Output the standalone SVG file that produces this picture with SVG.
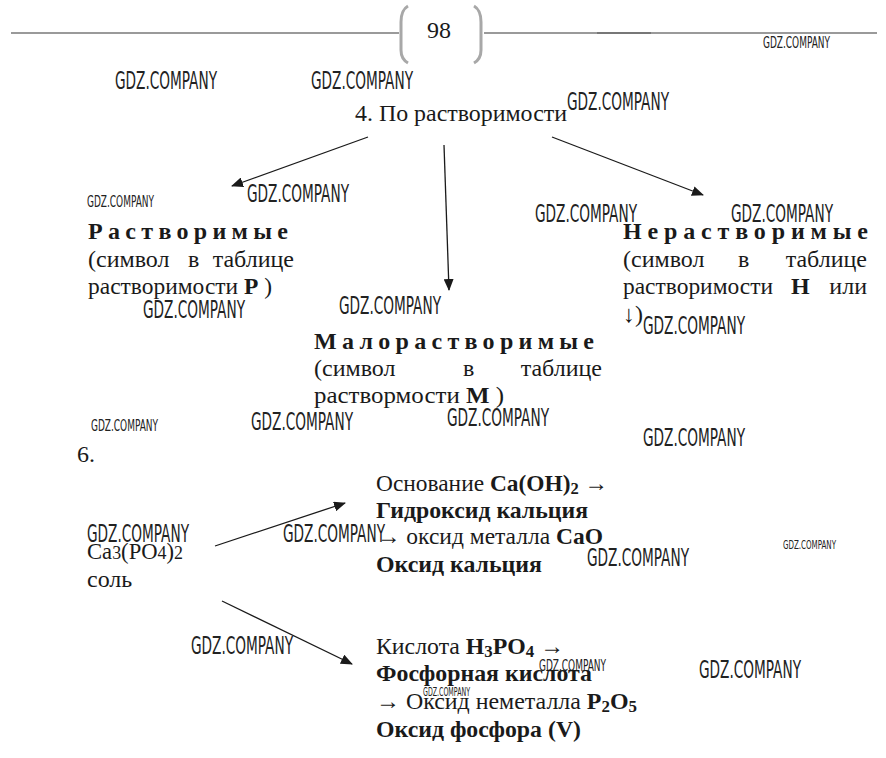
<svg xmlns="http://www.w3.org/2000/svg" width="886" height="758" viewBox="0 0 886 758">
<style>
.t{font-family:"Liberation Serif","Times New Roman",serif;font-size:24px;fill:#1a1a1a}
.b{font-weight:bold}
.w{font-family:"DejaVu Sans Condensed","Liberation Sans",Arial,sans-serif;font-size:25px;fill:#222;font-stretch:condensed}
.ws{font-family:"DejaVu Sans Condensed","Liberation Sans",Arial,sans-serif;font-size:16px;fill:#222;font-stretch:condensed}
.wx{font-family:"DejaVu Sans Condensed","Liberation Sans",Arial,sans-serif;font-size:12px;fill:#222;font-stretch:condensed}
.c{stroke:#1a1a1a;stroke-width:1.3;fill:none;marker-end:url(#ah)}
</style>
<defs>
<marker id="ah" viewBox="0 0 12 10" refX="11" refY="5" markerWidth="12" markerHeight="10" markerUnits="userSpaceOnUse" orient="auto">
<path d="M0,0 L12,5 L0,10 z" fill="#1a1a1a"/>
</marker>
</defs>
<rect width="886" height="758" fill="#fff"/>
<g id="header">
<line x1="11" y1="33" x2="399" y2="33" stroke="#9a9a9a" stroke-width="2"/>
<line x1="484" y1="33" x2="877" y2="33" stroke="#9a9a9a" stroke-width="2"/>
<line x1="597" y1="33" x2="651" y2="33" stroke="#777" stroke-width="2"/>
<path d="M408,6 Q401,10 401,22 L401,50 Q401,59 408,63" stroke="#a8a8a8" stroke-width="3" fill="none"/>
<path d="M474,6 Q481,10 481,22 L481,50 Q481,59 474,63" stroke="#a8a8a8" stroke-width="3" fill="none"/>
<text class="t" x="439" y="38" text-anchor="middle" font-size="26">98</text>
</g>
<g id="watermarks">
<text class="ws" x="763" y="48" textLength="67" lengthAdjust="spacingAndGlyphs">GDZ.COMPANY</text>
<text class="w" x="115" y="89" textLength="102" lengthAdjust="spacingAndGlyphs">GDZ.COMPANY</text>
<text class="w" x="311" y="89" textLength="102" lengthAdjust="spacingAndGlyphs">GDZ.COMPANY</text>
<text class="w" x="567" y="110" textLength="102" lengthAdjust="spacingAndGlyphs">GDZ.COMPANY</text>
<text class="w" x="247" y="202" textLength="102" lengthAdjust="spacingAndGlyphs">GDZ.COMPANY</text>
<text class="ws" x="87" y="207" textLength="67" lengthAdjust="spacingAndGlyphs">GDZ.COMPANY</text>
<text class="w" x="535" y="222" textLength="102" lengthAdjust="spacingAndGlyphs">GDZ.COMPANY</text>
<text class="w" x="731" y="222" textLength="102" lengthAdjust="spacingAndGlyphs">GDZ.COMPANY</text>
<text class="w" x="143" y="318" textLength="102" lengthAdjust="spacingAndGlyphs">GDZ.COMPANY</text>
<text class="w" x="339" y="314" textLength="102" lengthAdjust="spacingAndGlyphs">GDZ.COMPANY</text>
<text class="w" x="643" y="334" textLength="102" lengthAdjust="spacingAndGlyphs">GDZ.COMPANY</text>
<text class="ws" x="91" y="431" textLength="67" lengthAdjust="spacingAndGlyphs">GDZ.COMPANY</text>
<text class="w" x="251" y="430" textLength="102" lengthAdjust="spacingAndGlyphs">GDZ.COMPANY</text>
<text class="w" x="447" y="426" textLength="102" lengthAdjust="spacingAndGlyphs">GDZ.COMPANY</text>
<text class="w" x="643" y="446" textLength="102" lengthAdjust="spacingAndGlyphs">GDZ.COMPANY</text>
<text class="w" x="87" y="542" textLength="102" lengthAdjust="spacingAndGlyphs">GDZ.COMPANY</text>
<text class="w" x="283" y="542" textLength="102" lengthAdjust="spacingAndGlyphs">GDZ.COMPANY</text>
<text class="w" x="587" y="566" textLength="102" lengthAdjust="spacingAndGlyphs">GDZ.COMPANY</text>
<text class="wx" x="783" y="549" textLength="53" lengthAdjust="spacingAndGlyphs">GDZ.COMPANY</text>
<text class="w" x="191" y="654" textLength="102" lengthAdjust="spacingAndGlyphs">GDZ.COMPANY</text>
<text class="ws" x="539" y="671" textLength="67" lengthAdjust="spacingAndGlyphs">GDZ.COMPANY</text>
<text class="w" x="699" y="678" textLength="102" lengthAdjust="spacingAndGlyphs">GDZ.COMPANY</text>
<text class="wx" x="423" y="696" textLength="47" lengthAdjust="spacingAndGlyphs">GDZ.COMPANY</text>
</g>
<g id="connectors">
<line class="c" x1="368" y1="137" x2="232" y2="186"/>
<line class="c" x1="444" y1="145" x2="449" y2="290"/>
<line class="c" x1="552" y1="137" x2="703" y2="195"/>
<line class="c" x1="215" y1="546" x2="345" y2="503"/>
<line class="c" x1="222" y1="601" x2="352" y2="664"/>
</g>
<g id="root4">
<text class="t" x="355" y="121" textLength="212" lengthAdjust="spacingAndGlyphs">4. По растворимости</text>
</g>
<g id="soluble">
<text class="t b" x="88" y="239" textLength="200" lengthAdjust="spacing">Растворимые</text>
<text class="t" x="88" y="267">(символ</text>
<text class="t" x="188" y="267">в</text>
<text class="t" x="294" y="267" text-anchor="end">таблице</text>
<text class="t" x="88" y="294" textLength="184" lengthAdjust="spacingAndGlyphs">растворимости <tspan class="b">Р</tspan> )</text>
</g>
<g id="insoluble">
<text class="t b" x="623" y="239" textLength="245" lengthAdjust="spacing">Нерастворимые</text>
<text class="t" x="623" y="267">(символ</text>
<text class="t" x="738" y="267">в</text>
<text class="t" x="867" y="267" text-anchor="end">таблице</text>
<text class="t" x="623" y="294" textLength="150" lengthAdjust="spacingAndGlyphs">растворимости</text>
<text class="t b" x="791" y="294">Н</text>
<text class="t" x="867" y="294" text-anchor="end">или</text>
<text class="t" x="623" y="322">↓)</text>
</g>
<g id="slightly">
<text class="t b" x="314" y="349" textLength="280" lengthAdjust="spacing">Малорастворимые</text>
<text class="t" x="314" y="376">(символ</text>
<text class="t" x="463" y="376">в</text>
<text class="t" x="602" y="376" text-anchor="end">таблице</text>
<text class="t" x="314" y="403" textLength="190" lengthAdjust="spacingAndGlyphs">раствормости <tspan class="b">М</tspan> )</text>
</g>
<g id="task6">
<text class="t" x="77" y="462">6.</text>
</g>
<g id="salt">
<text class="t" x="87" y="559" textLength="96" lengthAdjust="spacingAndGlyphs">Ca<tspan font-size="19">3</tspan>(PO<tspan font-size="19">4</tspan>)<tspan font-size="19">2</tspan></text>
<text class="t" x="87" y="587">соль</text>
</g>
<g id="base">
<text class="t" x="376" y="491" textLength="232" lengthAdjust="spacingAndGlyphs">Основание <tspan class="b">Ca(OH)<tspan font-size="17" dy="3">2</tspan></tspan><tspan dy="-3"> →</tspan></text>
<text class="t b" x="376" y="518" textLength="212" lengthAdjust="spacingAndGlyphs">Гидроксид кальция</text>
<text class="t" x="377" y="544" textLength="226" lengthAdjust="spacingAndGlyphs">→ оксид металла <tspan class="b">CaO</tspan></text>
<text class="t b" x="376" y="572" textLength="166" lengthAdjust="spacingAndGlyphs">Оксид кальция</text>
</g>
<g id="acid">
<text class="t" x="376" y="654" textLength="188" lengthAdjust="spacingAndGlyphs">Кислота <tspan class="b">H<tspan font-size="17" dy="3">3</tspan><tspan dy="-3">PO</tspan><tspan font-size="17" dy="3">4</tspan></tspan><tspan dy="-3"> →</tspan></text>
<text class="t b" x="376" y="681" textLength="216" lengthAdjust="spacingAndGlyphs">Фосфорная кислота</text>
<text class="t" x="376" y="709" textLength="261" lengthAdjust="spacingAndGlyphs">→ Оксид неметалла <tspan class="b">P<tspan font-size="17" dy="3">2</tspan><tspan dy="-3">O</tspan><tspan font-size="17" dy="3">5</tspan></tspan></text>
<text class="t b" x="376" y="737" textLength="205" lengthAdjust="spacingAndGlyphs">Оксид фосфора (V)</text>
</g>
</svg>
